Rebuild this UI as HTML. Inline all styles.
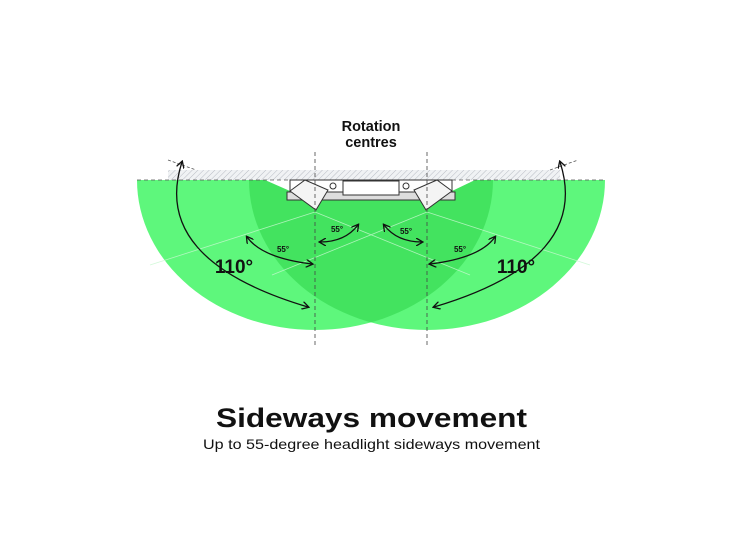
<!DOCTYPE html>
<html><head><meta charset="utf-8"><style>
html,body{margin:0;padding:0;background:#fff;}
svg{display:block;}
</style></head><body>
<svg width="736" height="550" viewBox="0 0 736 550" xmlns="http://www.w3.org/2000/svg">
<defs>
<pattern id="h" width="4" height="4" patternUnits="userSpaceOnUse" patternTransform="rotate(45)">
<rect width="4" height="4" fill="#f0f2f4"/><line x1="0" y1="0" x2="0" y2="4" stroke="#b8bcc4" stroke-width="1"/></pattern>
<marker id="a" markerWidth="8" markerHeight="8" refX="6" refY="4" orient="auto-start-reverse" markerUnits="userSpaceOnUse">
<path d="M0,0 L7,4 L0,8" fill="none" stroke="#111" stroke-width="1.3"/></marker>
<clipPath id="c"><path d="M137,180 A178,150 0 0 0 493,180 Z"/></clipPath>
</defs>
<rect x="168" y="170" width="392" height="10" fill="url(#h)"/>
<path d="M137,180 A178,150 0 0 0 493,180 Z" fill="#5ef77c"/>
<path d="M249,180 A178,150 0 0 0 605,180 Z" fill="#5ef77c"/>
<g clip-path="url(#c)"><path d="M249,180 A178,150 0 0 0 605,180 Z" fill="#43e35f"/></g>
<!-- white notch -->
<path d="M265,180 L475,180 L452,191 L452,200 L290,200 L290,191 Z" fill="#fff"/>
<g stroke="#c8f8d0" stroke-width="0.8" opacity="0.8">
<line x1="315" y1="212" x2="150" y2="265"/><line x1="315" y1="212" x2="470" y2="275"/>
<line x1="427" y1="212" x2="590" y2="265"/><line x1="427" y1="212" x2="272" y2="275"/>
</g>
<line x1="137" y1="180" x2="605" y2="180" stroke="#555" stroke-width="0.8" stroke-dasharray="4,3"/>
<line x1="168" y1="160" x2="196" y2="170" stroke="#555" stroke-width="0.8" stroke-dasharray="3,2"/>
<line x1="550" y1="170" x2="578" y2="160" stroke="#555" stroke-width="0.8" stroke-dasharray="3,2"/>
<g stroke="#333" stroke-width="1" fill="#fff">
<rect x="290" y="180" width="162" height="18"/>
<rect x="287" y="192" width="168" height="8" fill="#ddd"/>
<rect x="343" y="181" width="56" height="14"/>
<circle cx="333" cy="186" r="3"/><circle cx="406" cy="186" r="3"/>
<path d="M290,191 L305,180 L328,190 L316,210 Z" fill="#f4f4f4"/>
<path d="M452,191 L437,180 L414,190 L426,210 Z" fill="#f4f4f4"/>
</g>
<line x1="315" y1="152" x2="315" y2="345" stroke="#444" stroke-width="0.8" stroke-dasharray="4,3"/>
<line x1="427" y1="152" x2="427" y2="345" stroke="#444" stroke-width="0.8" stroke-dasharray="4,3"/>
<g fill="none" stroke="#111" stroke-width="1.3" marker-start="url(#a)" marker-end="url(#a)">
<path d="M182,162 Q150,260 308,307"/>
<path d="M247,237 Q262,258 312,264"/>
<path d="M320,242 Q345,242 358,225"/>
<path d="M560,162 Q592,260 434,307"/>
<path d="M495,237 Q480,258 430,264"/>
<path d="M422,242 Q397,242 384,225"/>
</g>
<g font-family="Liberation Sans, sans-serif" font-weight="bold" fill="#111">
<text x="371" y="131" font-size="14.5" text-anchor="middle">Rotation</text>
<text x="371" y="147" font-size="14.5" text-anchor="middle">centres</text>
<text x="234" y="273" font-size="19" text-anchor="middle">110°</text>
<text x="516" y="273" font-size="19" text-anchor="middle">110°</text>
<text x="283" y="252" font-size="8" text-anchor="middle">55°</text>
<text x="460" y="252" font-size="8" text-anchor="middle">55°</text>
<text x="337" y="232" font-size="8" text-anchor="middle">55°</text>
<text x="406" y="234" font-size="8" text-anchor="middle">55°</text>
<text x="216" y="427" font-size="27" textLength="311" lengthAdjust="spacingAndGlyphs">Sideways movement</text>
</g>
<text x="203" y="449" font-family="Liberation Sans, sans-serif" font-size="14" fill="#111" textLength="337" lengthAdjust="spacingAndGlyphs">Up to 55-degree headlight sideways movement</text>
</svg>
</body></html>
